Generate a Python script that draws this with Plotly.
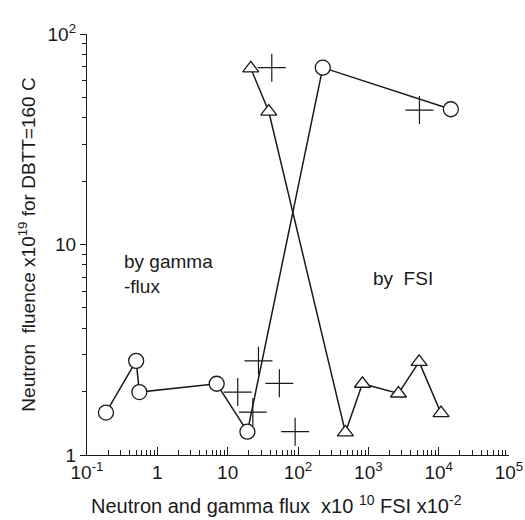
import plotly.graph_objects as go

# Data
gamma_x = [0.186, 0.50, 0.555, 6.98, 19.1, 225, 14900]
gamma_y = [1.59, 2.80, 1.99, 2.18, 1.29, 69.2, 43.9]

fsi_x = [21.3, 38.4, 472, 824, 2680, 5270, 10800]
fsi_y = [68.7, 42.8, 1.28, 2.18, 1.96, 2.77, 1.58]

cross_x = [42.4, 5330, 27.4, 13.9, 54.3, 22.8, 91]
cross_y = [69.2, 43.5, 2.80, 1.99, 2.19, 1.60, 1.29]

x_tickvals = [0.1, 1, 10, 100, 1000, 10000, 100000]
x_ticktext = ["10<sup>-1</sup>", "1", "10", "10<sup>2</sup>", "10<sup>3</sup>", "10<sup>4</sup>", "10<sup>5</sup>"]
y_tickvals = [1, 10, 100]
y_ticktext = ["1", "10", "10<sup>2</sup>"]

x_title = "Neutron and gamma flux  x10 <sup>10</sup> FSI x10<sup>-2</sup>"
y_title = "Neutron  fluence x10<sup>19</sup> for DBTT=160 C"

FONT = "Liberation Sans, Arial, sans-serif"
INK = "#1a1a1a"

def minor_vals(lo_exp, hi_exp):
    vals = []
    for e in range(lo_exp, hi_exp):
        for m in range(2, 10):
            vals.append(m * 10 ** e)
    return vals

fig = go.Figure()

fig.add_trace(go.Scatter(
    x=cross_x, y=cross_y, mode="markers",
    marker=dict(symbol="cross-thin-open", size=20, color=INK, line=dict(color=INK, width=1.2)),
    showlegend=False))

fig.add_trace(go.Scatter(
    x=gamma_x, y=gamma_y, mode="lines+markers",
    line=dict(color=INK, width=1.5),
    marker=dict(symbol="circle", size=15, color="white", line=dict(color=INK, width=1.3)),
    showlegend=False))

fig.add_trace(go.Scatter(
    x=fsi_x, y=fsi_y, mode="lines+markers",
    line=dict(color=INK, width=1.5),
    marker=dict(symbol="triangle-up", size=14, color="white", line=dict(color=INK, width=1.3)),
    showlegend=False))

fig.add_annotation(x=0.082, y=0.49, xref="paper", yref="paper", xanchor="left", yanchor="top",
                   text="by gamma<br>-flux", showarrow=False, align="left",
                   font=dict(family=FONT, size=19, color=INK))
fig.add_annotation(x=0.673, y=0.45, xref="paper", yref="paper", xanchor="left", yanchor="top",
                   text="by  FSI", showarrow=False, align="left",
                   font=dict(family=FONT, size=19, color=INK))
# x-axis title (offset to the left as in the reference)
fig.add_annotation(x=0.448, y=-0.152, xref="paper", yref="paper", xanchor="center", yanchor="bottom",
                   text=x_title, showarrow=False,
                   font=dict(family=FONT, size=20, color=INK))

fig.update_xaxes(
    type="log", range=[-1, 5], showgrid=False, zeroline=False, automargin=False,
    showline=True, linecolor=INK, linewidth=1.2,
    ticks="inside", ticklen=8, tickcolor=INK, tickwidth=1,
    tickvals=x_tickvals, ticktext=x_ticktext,
    minor=dict(ticks="inside", ticklen=5, tickcolor=INK, tickwidth=1, tickvals=minor_vals(-1, 5), showgrid=False),
    tickfont=dict(family=FONT, size=19, color=INK),
)
fig.update_yaxes(
    type="log", range=[0, 2], showgrid=False, zeroline=False, automargin=False,
    showline=True, linecolor=INK, linewidth=1.2,
    ticks="outside", ticklen=6, tickcolor=INK, tickwidth=1,
    tickvals=y_tickvals, ticktext=y_ticktext,
    minor=dict(ticks="outside", ticklen=4, tickcolor=INK, tickwidth=1, tickvals=minor_vals(0, 2), showgrid=False),
    tickfont=dict(family=FONT, size=19, color=INK),
    title=dict(text=y_title, font=dict(family=FONT, size=19, color=INK), standoff=6),
)

fig.update_layout(
    width=525, height=520,
    margin=dict(l=87, r=16, t=34, b=65),
    paper_bgcolor="white", plot_bgcolor="white",
)

fig.write_html("out.html")
